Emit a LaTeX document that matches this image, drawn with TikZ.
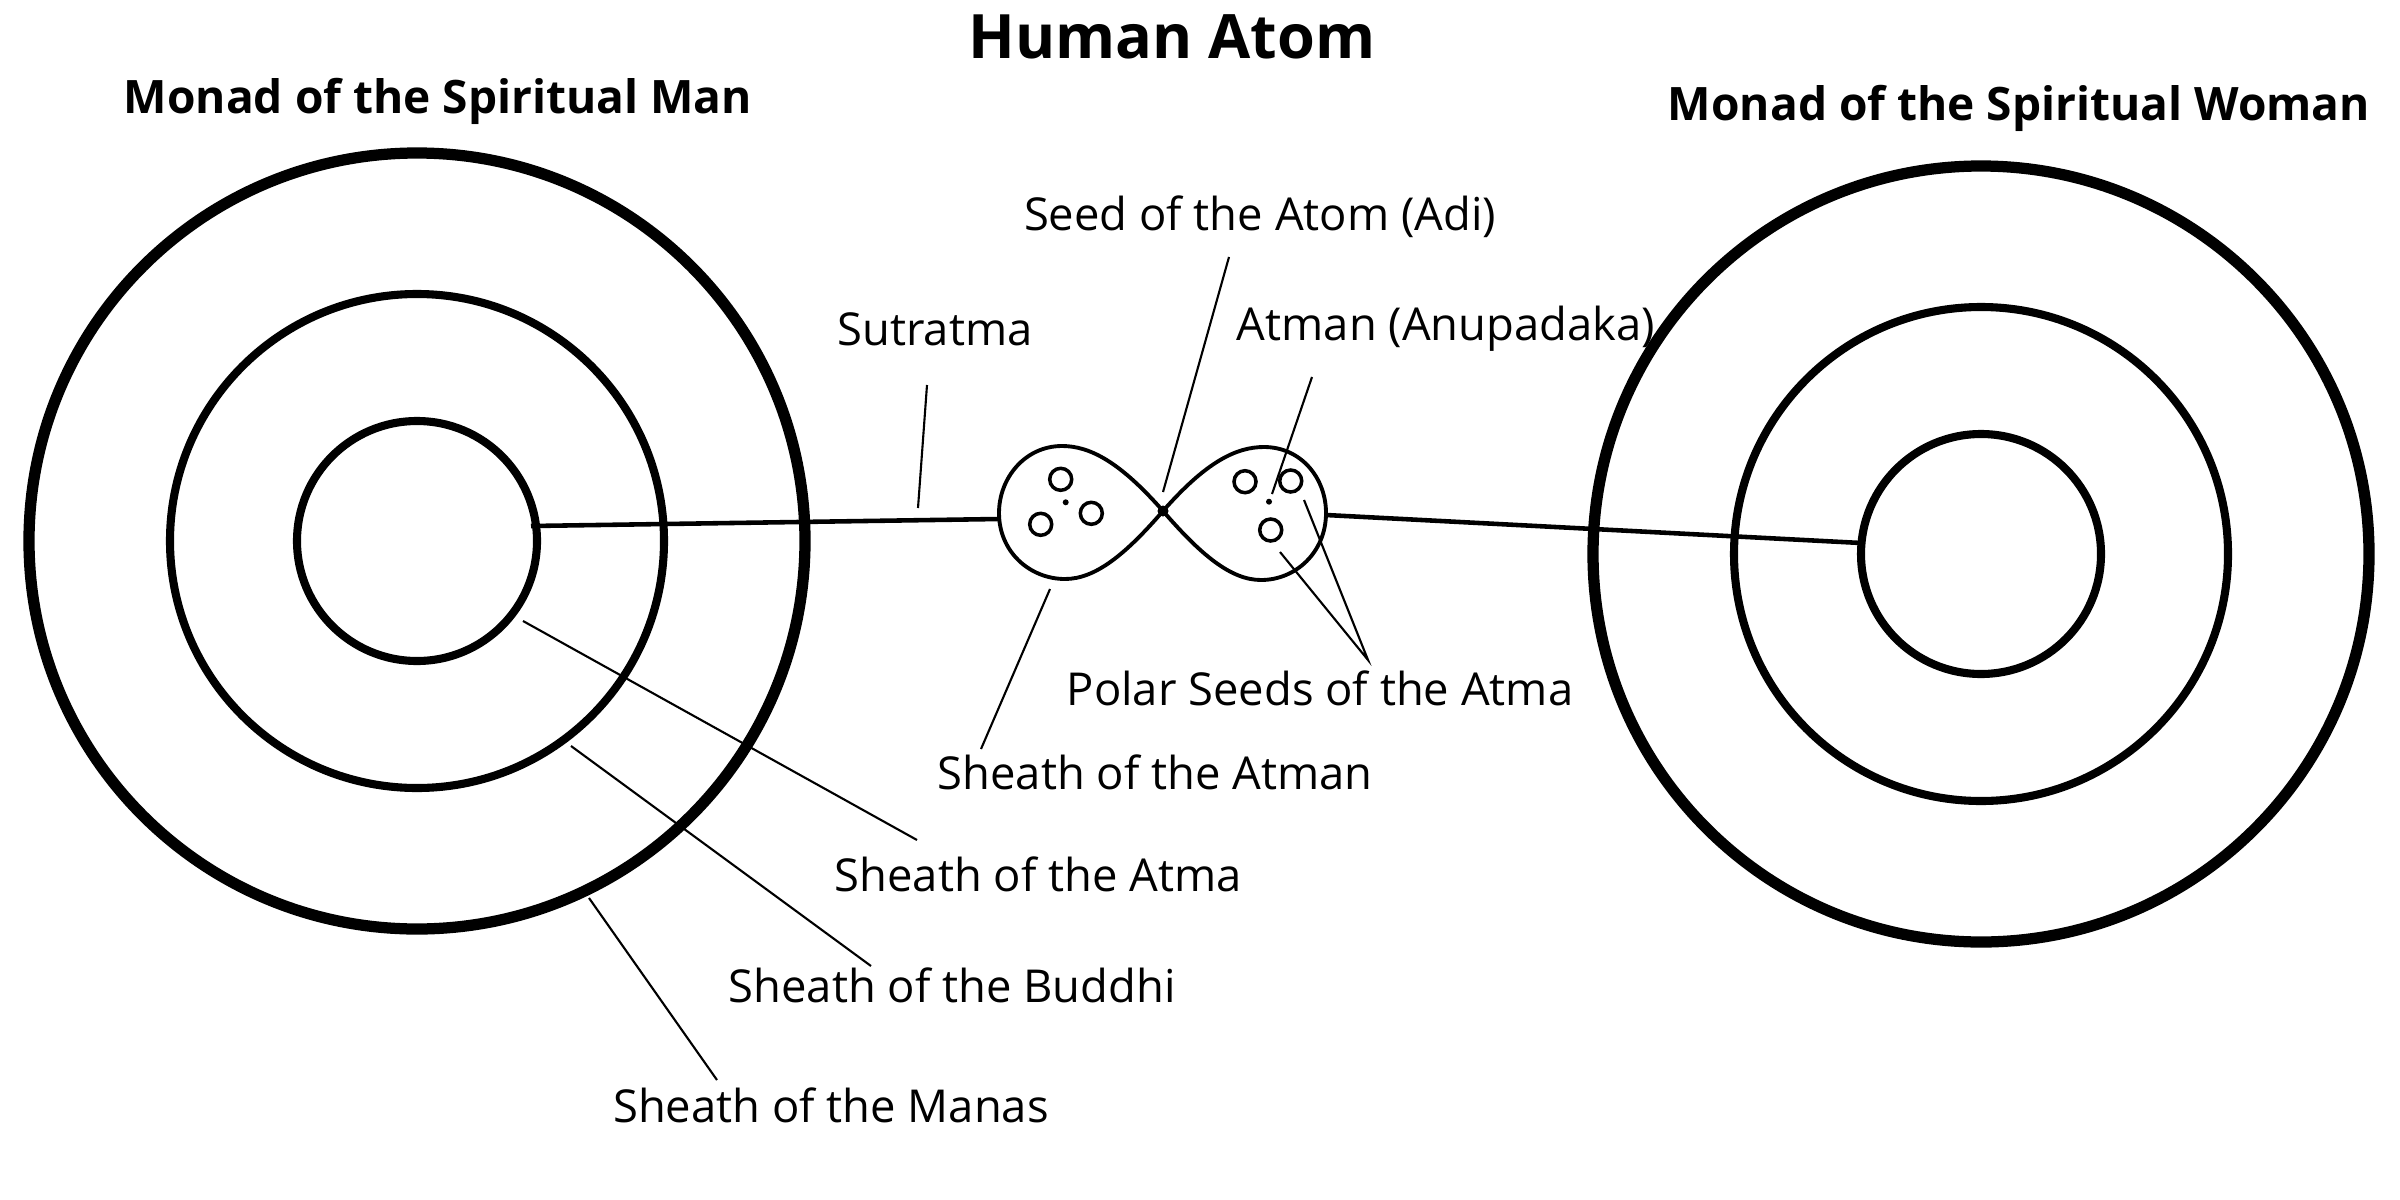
\documentclass[tikz,border=0pt]{standalone}
\usepackage{fontspec}
\setmainfont{Open Sans}
\begin{document}
\begin{tikzpicture}[x=0.01cm,y=-0.01cm,
  lbl/.style={font=\fontsize{12.9}{15}\selectfont,inner sep=0pt},
  hd/.style={font=\bfseries\fontsize{13.1}{16}\selectfont,inner sep=0pt},
  ttl/.style={font=\bfseries\fontsize{17.4}{20}\selectfont,inner sep=0pt},
  lead/.style={line width=0.6pt},
  seed/.style={line width=1pt}]
\useasboundingbox (0,0) rectangle (2400,1200);
\fill[white] (0,0) rectangle (2400,1200);
% monads
\foreach \cx/\cy in {417/541,1981/554}{
  \draw[line width=3.2pt] (\cx,\cy) circle (388);
  \draw[line width=2.3pt] (\cx,\cy) circle (247);
  \draw[line width=2.3pt] (\cx,\cy) circle (120);
}
% atom
\coordinate (C) at (1163,511);
\draw[line width=1.1pt] (C) .. controls (1120,462) and (1090,446) .. (1062,446)
  .. controls (1025,446) and (999,478) .. (999,513)
  .. controls (999,552) and (1030,579) .. (1065,579)
  .. controls (1095,579) and (1125,555) .. (C)
  .. controls (1206,462) and (1236,447) .. (1264,447)
  .. controls (1301,447) and (1326,478) .. (1326,513)
  .. controls (1326,552) and (1296,580) .. (1261,580)
  .. controls (1231,580) and (1201,555) .. (C);
\fill (C) circle (5.5);
\foreach \x/\y in {1060.7/479.3,1040.7/524.3,1091.3/513.3,1245/481.7,1290.7/481,1270.7/530}
  \draw[seed] (\x,\y) circle (11);
\fill (1065.7,502.3) circle (3);
\fill (1269,501.7) circle (3);
% sutratma lines
\coordinate (L1) at (531,526); \coordinate (L2) at (999,519);
\coordinate (R1) at (1326,515); \coordinate (R2) at (1861,543);
\draw[line width=1.3pt] (L1) -- (L2);
\draw[line width=1.3pt] (R1) -- (R2);
% texts
\node[ttl] at (1172,37) {Human Atom};
\node[hd] at (438,101) {Monad of the Spiritual Man};
\node[hd] at (2019,108) {Monad of the Spiritual Woman};
\node[lbl] at (1260,217) {Seed of the Atom (Adi)};
\node[lbl] at (935,329) {Sutratma};
\node[lbl] at (1446,329) {Atman (Anupadaka)};
\node[lbl] at (1320,688) {Polar Seeds of the Atma};
\node[lbl] at (1155,772) {Sheath of the Atman};
\node[lbl] at (1038,874) {Sheath of the Atma};
\node[lbl] at (952,985) {Sheath of the Buddhi};
\node[lbl] at (831,1105) {Sheath of the Manas};
% leaders
\draw[lead] (927,385) -- (918,508);
\draw[lead] (1229,257) -- (1163,492);
\draw[lead] (1312,377) -- (1272,494);
\draw[lead] (1280,552) -- (1368,660) -- (1304,500);
\draw[lead] (1050,589) -- (981,749);
\draw[lead] (523,621) -- (917,840);
\draw[lead] (571,746) -- (871,966);
\draw[lead] (589,898) -- (717,1080);
\end{tikzpicture}
\end{document}
